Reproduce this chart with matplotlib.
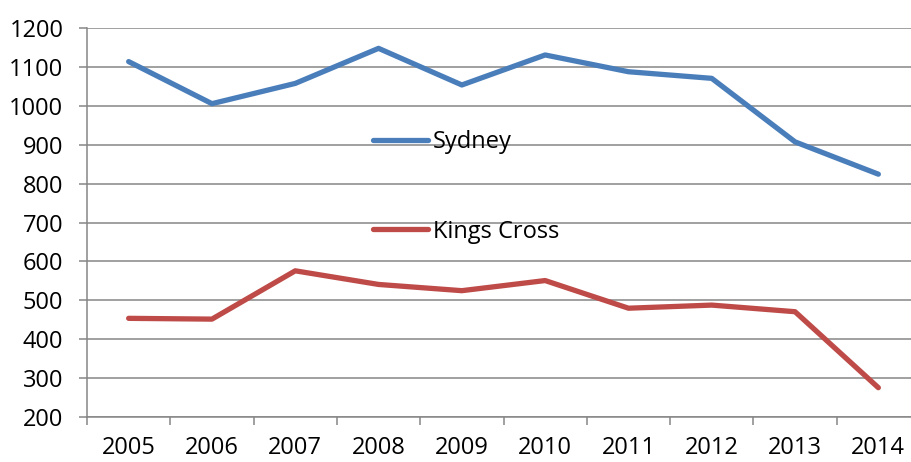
import matplotlib
matplotlib.use('Agg')
import matplotlib.pyplot as plt
import numpy as np

# data
years = ['2005', '2006', '2007', '2008', '2009', '2010', '2011', '2012', '2013', '2014']
sydney = [1113, 1005, 1057, 1147, 1053, 1130, 1087, 1070, 907, 824]
kings_cross = [454, 452, 576, 541, 525, 551, 480, 488, 471, 276]

plt.rcParams['font.family'] = ['Open Sans', 'DejaVu Sans']
grey = '#868686'

fig = plt.figure(figsize=(9.12, 4.62), dpi=100)
# plot area runs off the right edge of the picture, like the reference
ax = fig.add_axes([87 / 912, 44.7 / 462, (920 - 87) / 912, 389.6 / 462])

x = np.arange(len(years))
ax.plot(x, sydney, color='#4A7EBB', lw=3.8, solid_capstyle='round',
        solid_joinstyle='round', label='Sydney')
ax.plot(x, kings_cross, color='#BE4B48', lw=3.8, solid_capstyle='round',
        solid_joinstyle='round', label='Kings Cross')

ax.set_xlim(-0.5, len(years) - 0.5)
ax.set_ylim(200, 1200)
ax.set_yticks(np.arange(200, 1201, 100))
ax.yaxis.grid(True, color=grey, lw=1.1)
ax.set_axisbelow(True)

# ticks between categories, labels at the centres
ax.set_xticks(np.arange(-0.5, len(years), 1.0))
ax.set_xticklabels([])
ax.set_xticks(x, minor=True)
ax.set_xticklabels(years, minor=True)
ax.tick_params(axis='x', which='major', direction='out', length=6, width=1.1, color=grey)
ax.tick_params(axis='x', which='minor', length=0, pad=13.5, labelsize=17)
ax.tick_params(axis='y', direction='out', length=6, width=1.1, color=grey, pad=11, labelsize=17)

for s in ['top', 'right']:
    ax.spines[s].set_visible(False)
for s in ['left', 'bottom']:
    ax.spines[s].set_color(grey)
    ax.spines[s].set_linewidth(1.1)

ax.legend(loc='upper left', bbox_to_anchor=(373 / 912, 1 - 130 / 462),
          bbox_transform=fig.transFigure, frameon=False, fontsize=17,
          handlelength=2.35, handletextpad=0.18, labelspacing=2.78,
          borderpad=0, borderaxespad=0)

fig.savefig('out.png', dpi=100)
